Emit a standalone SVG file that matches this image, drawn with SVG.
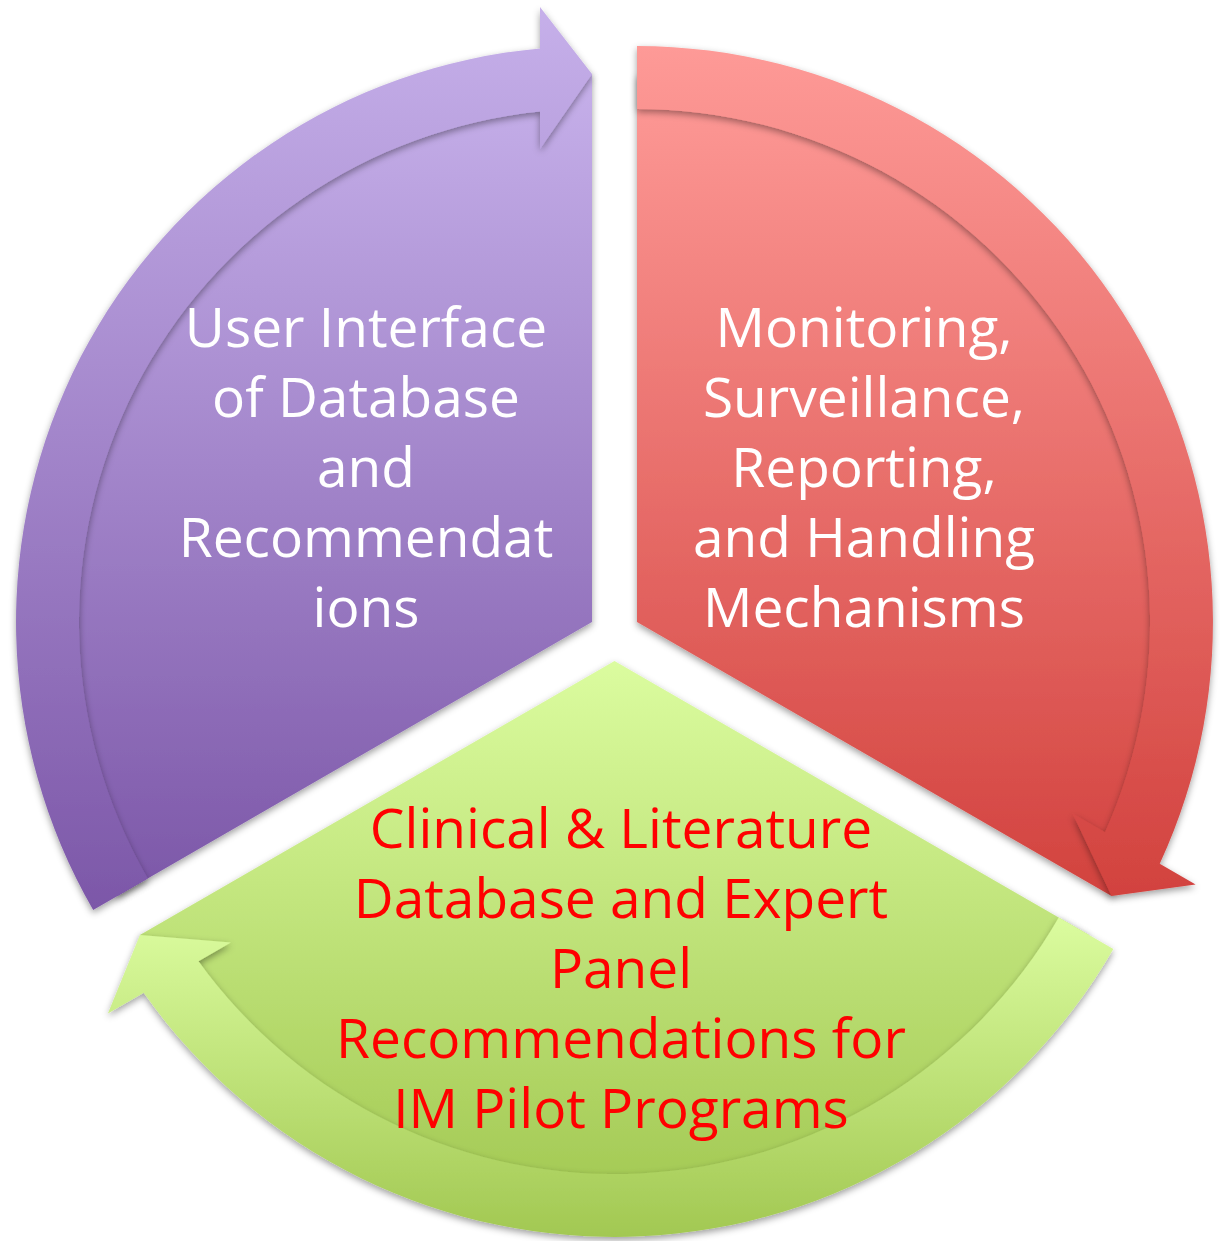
<svg xmlns="http://www.w3.org/2000/svg" width="1220" height="1241" viewBox="0 0 1220 1241">
  <defs>
    <linearGradient id="gPurple" x1="0" y1="0" x2="0" y2="1">
      <stop offset="0" stop-color="#C6B0EA"/>
      <stop offset="1" stop-color="#7C57A8"/>
    </linearGradient>
    <linearGradient id="gRed" x1="0" y1="0" x2="0" y2="1">
      <stop offset="0" stop-color="#FE9A97"/>
      <stop offset="1" stop-color="#D2423E"/>
    </linearGradient>
    <linearGradient id="gGreen" x1="0" y1="0" x2="0" y2="1">
      <stop offset="0" stop-color="#DBFC9F"/>
      <stop offset="1" stop-color="#A2C852"/>
    </linearGradient>
    <filter id="shadow" x="-10%" y="-10%" width="120%" height="120%">
      <feDropShadow dx="0" dy="3" stdDeviation="3.5" flood-color="#000" flood-opacity="0.38"/>
    </filter>
  </defs>
  <style>
    .shape { filter: url(#shadow); }
    .purple { fill: url(#gPurple); }
    .red { fill: url(#gRed); }
    .green { fill: url(#gGreen); }
    .label { font-family: "Open Sans", "Liberation Sans", sans-serif; font-size: 55px; text-anchor: middle; }
    .light { fill: #FFFFFF; }
    .alert { fill: #FF0000; }
  </style>

  <rect width="1220" height="1241" fill="#FFFFFF"/>

  <!-- Segment 1: upper-left wedge, arrow pointing right at the top -->
  <g id="segment-ui">
    <path class="shape purple" d="M592,622 L117.42,896 A548,548 0 0 1 592,74 Z"/>
    <path class="shape purple" d="M93.17,910 A576,576 0 0 1 540,48.4 L540,7 L592,74 L540,149 L540,111.6 A513,513 0 0 0 147.73,878.5 Z"/>
    <text class="label light" x="366" y="347">User Interface</text>
    <text class="label light" x="366" y="417">of Database</text>
    <text class="label light" x="366" y="487">and</text>
    <text class="label light" x="366" y="557">Recommendat</text>
    <text class="label light" x="366" y="627">ions</text>
  </g>

  <!-- Segment 2: right wedge, arrow pointing down-left at the bottom -->
  <g id="segment-monitoring">
    <path class="shape red" d="M637,622 L637,74 A548,548 0 0 1 1111.58,896 Z"/>
    <path class="shape red" d="M637,46 A576,576 0 0 1 1159.75,863.77 L1195.6,884.47 L1111.58,896 L1072.63,813.47 L1105.02,832.17 A513,513 0 0 0 637,109 Z"/>
    <text class="label light" x="864" y="347">Monitoring,</text>
    <text class="label light" x="864" y="417">Surveillance,</text>
    <text class="label light" x="864" y="487">Reporting,</text>
    <text class="label light" x="864" y="557">and Handling</text>
    <text class="label light" x="864" y="627">Mechanisms</text>
  </g>

  <!-- Segment 3: bottom wedge, arrow pointing up-left on the left -->
  <g id="segment-clinical">
    <path class="shape green" d="M614.5,661 L1089.08,935 A548,548 0 0 1 139.92,935 Z"/>
    <path class="shape green" d="M1113.33,949 A576,576 0 0 1 143.75,992.83 L107.9,1013.53 L139.92,935 L230.87,942.53 L198.48,961.23 A513,513 0 0 0 1058.77,917.5 Z"/>
    <text class="label alert" x="621" y="848">Clinical &amp; Literature</text>
    <text class="label alert" x="621" y="918">Database and Expert</text>
    <text class="label alert" x="621" y="988">Panel</text>
    <text class="label alert" x="621" y="1058">Recommendations for</text>
    <text class="label alert" x="621" y="1128">IM Pilot Programs</text>
  </g>
</svg>
